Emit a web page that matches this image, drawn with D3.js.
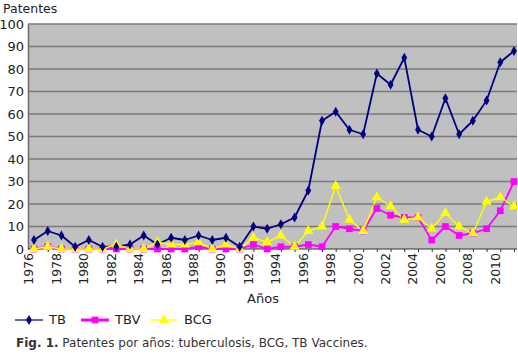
<!DOCTYPE html>
<html><head><meta charset="utf-8">
<script src="https://cdn.jsdelivr.net/npm/d3@7"></script>
<style>
html,body{margin:0;padding:0;background:#fff;}
svg{display:block;font-family:"DejaVu Sans",Verdana,sans-serif;}
</style></head><body>
<svg id="c" width="518" height="360"></svg>
<script>
const years = d3.range(1976, 2012);
const tb  = [4,8,6,1,4,1,1,2,6,2, 5,4,6,4,5,1,10,9,11,14, 26,57,61,53,51,78,73,85,53,50, 67,51,57,66,83,88];
const tbv = [0,1,0,0,0,0,0,0,0,0, 0,0,1,0,0,0,2,0,1,1, 2,1,10,9,8,18,15,14,14,4, 10,6,7,9,17,30];
const bcg = [0,1,0,0,0,0,2,0,0,3, 2,2,3,0,2,0,5,3,6,1, 8,10,28,13,8,23,19,13,14,9, 16,10,7,21,23,19];
const yTicks = [0,10,20,30,40,50,60,70,80,90,100];
const xLabels = d3.range(1976, 2012, 2);
const seriesNames = ["TB","TBV","BCG"];
const seriesColors = ["#000080","#ff00ff","#ffff00"];

const svg = d3.select("#c");
const L = 28, R = 517, T = 24, B = 249;
const x = d3.scalePoint().domain(years).range([34, 514]);
const y = d3.scaleLinear().domain([0,100]).range([B, T]);

svg.append("rect").attr("x", L).attr("y", T).attr("width", R-L).attr("height", B-T).attr("fill", "#c0c0c0");

// gridlines
svg.append("g").selectAll("line").data(yTicks.slice(1)).join("line")
  .attr("x1", L).attr("x2", R).attr("y1", d=>y(d)).attr("y2", d=>y(d))
  .attr("stroke", "#7a7a7a").attr("stroke-width", 1.5);

// y axis
const ya = svg.append("g").attr("transform", `translate(${L},0)`)
  .call(d3.axisLeft(y).tickValues(yTicks).tickSize(0).tickPadding(4));
ya.select(".domain").attr("stroke", "#6a6a6a").attr("stroke-width", 1.5);
ya.selectAll("text").attr("font-size", 13).attr("fill", "#222").attr("font-family", '"DejaVu Sans",Verdana,sans-serif');

// x axis
svg.append("line").attr("x1", L).attr("x2", R).attr("y1", B).attr("y2", B).attr("stroke", "#333").attr("stroke-width", 1.2);
const xa = svg.append("g").attr("transform", `translate(0,${B})`)
  .call(d3.axisBottom(x).tickValues(years).tickSize(3).tickFormat(""));
xa.select(".domain").remove();
xa.selectAll("line").attr("stroke", "#333");
svg.append("g").selectAll("text").data(xLabels).join("text")
  .attr("transform", d => `translate(${x(d)-5},${B+4}) rotate(-90)`)
  .attr("text-anchor", "end").attr("dy", "0.35em")
  .attr("font-size", 12.5).attr("fill", "#222").text(d => d);

// series
const data = [tb, tbv, bcg];
const line = d3.line().x((d,i)=>x(years[i])).y(d=>y(d));
const widths = [1.8, 1.8, 1.4];
data.forEach((s, k) => {
  svg.append("path").datum(s).attr("d", line).attr("fill","none")
    .attr("stroke", seriesColors[k]).attr("stroke-width", widths[k]).attr("stroke-linejoin","round");
});
const sym = [d3.symbolDiamond, d3.symbolSquare, d3.symbolTriangle];
const sizes = [30, 45, 45];
function marks(g, k, pts) {
  g.selectAll("path.m"+k).data(pts).join("path").attr("class","m"+k)
    .attr("transform", d => `translate(${d[0]},${d[1]})`)
    .attr("d", d3.symbol().type(sym[k]).size(sizes[k]))
    .attr("fill", seriesColors[k]);
}
const mg = svg.append("g");
[1,2,0].forEach(k => marks(mg, k, data[k].map((v,i)=>[x(years[i]), y(v)])));

// titles
svg.append("text").attr("x", 3).attr("y", 13).attr("font-size", 12.5).attr("fill","#222").text("Patentes");
svg.append("text").attr("x", 263).attr("y", 303).attr("text-anchor","middle").attr("font-size", 13).attr("fill","#222").text("Años");

// legend
const lg = svg.append("g");
const lx = [15, 81, 150];
const lw = [1.2, 3, 1.2];
seriesNames.forEach((n,k) => {
  lg.append("line").attr("x1", lx[k]).attr("x2", lx[k]+28).attr("y1", 320).attr("y2", 320)
    .attr("stroke", seriesColors[k]).attr("stroke-width", lw[k]);
  marks(lg, k, [[lx[k]+14, 320]]);
  lg.append("text").attr("x", lx[k]+34).attr("y", 324).attr("font-size", 13).attr("fill","#222").text(n);
});

// caption
const cap = svg.append("text").attr("x", 16).attr("y", 347).attr("font-size", 12).attr("fill","#333");
cap.append("tspan").attr("font-weight","bold").text("Fig. 1.");
cap.append("tspan").text(" Patentes por años: tuberculosis, BCG, TB Vaccines.");
</script>
</body></html>
